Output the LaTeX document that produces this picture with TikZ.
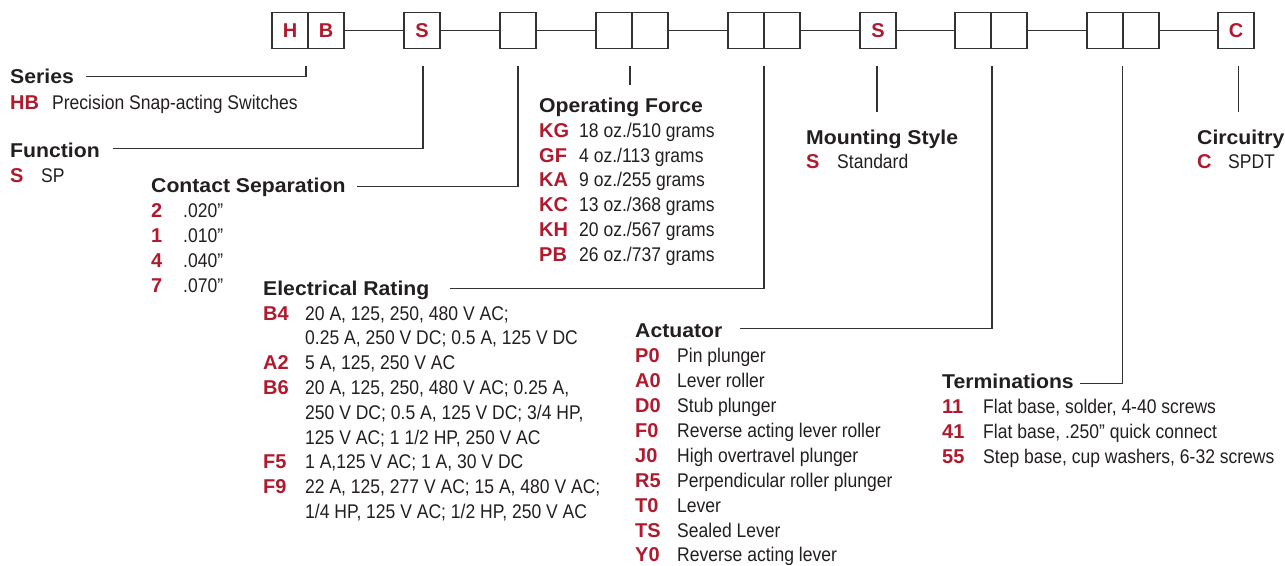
\documentclass[tikz,border=0pt]{standalone}
\usepackage{fontspec}
\setmainfont{Liberation Sans}
\newfontfamily\bodyfont{Liberation Sans}[FakeStretch=0.885]
\newfontfamily\headfont{Liberation Sans}[FakeStretch=1.06]
\usepackage{tikz}
\usetikzlibrary{positioning,calc}
\definecolor{partred}{RGB}{176,26,46}
\definecolor{ink}{RGB}{35,31,32}
\definecolor{boxline}{RGB}{50,50,50}

\begin{document}
\begin{tikzpicture}[x=1pt,y=-1pt,
  cell/.style={draw=boxline,line width=1.3pt,minimum width=36pt,minimum height=35.5pt,
    inner sep=0pt,text=partred,font=\bfseries\fontsize{20}{24}\selectfont},
  head/.style={anchor=base west,inner sep=0pt,text=ink,font=\headfont\bfseries\fontsize{20}{24}\selectfont},
  code/.style={anchor=base west,inner sep=0pt,text=partred,font=\bfseries\fontsize{20}{24}\selectfont},
  desc/.style={anchor=base west,inner sep=0pt,text=ink,font=\bodyfont\fontsize{19.8}{24}\selectfont},
  lead/.style={draw=boxline,line width=1.2pt},
]
\useasboundingbox (0,0) rectangle (1285,565);

% ---- Part number boxes ----
\node[cell] (H) at (290,30.5) {H};
\node[cell] (B) at (326,30.5) {B};
\node[cell] (fn) at (422,30.5) {S};
\node[cell] (cs) at (518,30.5) {};
\node[cell] (of1) at (614,30.5) {};
\node[cell] (of2) at (650,30.5) {};
\node[cell] (er1) at (746,30.5) {};
\node[cell] (er2) at (782,30.5) {};
\node[cell] (ms) at (878,30.5) {S};
\node[cell] (ac1) at (973,30.5) {};
\node[cell] (ac2) at (1009,30.5) {};
\node[cell] (tm1) at (1105,30.5) {};
\node[cell] (tm2) at (1141,30.5) {};
\node[cell] (ci) at (1236,30.5) {C};
\draw[lead] (B) -- (fn);
\draw[lead] (fn) -- (cs);
\draw[lead] (cs) -- (of1);
\draw[lead] (of2) -- (er1);
\draw[lead] (er2) -- (ms);
\draw[lead] (ms) -- (ac1);
\draw[lead] (ac2) -- (tm1);
\draw[lead] (tm2) -- (ci);

% ---- Leader lines ----
\coordinate (serTop) at (306,66);    \coordinate (serEnd) at (86,76.5);
\coordinate (fnTop) at (423,66);     \coordinate (fnEnd) at (113,148.3);
\coordinate (csTop) at (518,66);     \coordinate (csEnd) at (357,186.7);
\coordinate (ofTop) at (630,66);     \coordinate (ofEnd) at (630,85);
\coordinate (erTop) at (764,66);     \coordinate (erEnd) at (450,288.3);
\coordinate (msTop) at (877,66);     \coordinate (msEnd) at (877,112);
\coordinate (acTop) at (992,66);     \coordinate (acEnd) at (740,328.3);
\coordinate (tmTop) at (1122.5,66);  \coordinate (tmEnd) at (1080,383.3);
\coordinate (ciTop) at (1238.5,66);  \coordinate (ciEnd) at (1238.5,112);
\draw[lead] (serTop) |- (serEnd);
\draw[lead] (fnTop) |- (fnEnd);
\draw[lead] (csTop) |- (csEnd);
\draw[lead] (ofTop) -- (ofEnd);
\draw[lead] (erTop) |- (erEnd);
\draw[lead] (msTop) -- (msEnd);
\draw[lead] (acTop) |- (acEnd);
\draw[lead] (tmTop) |- (tmEnd);
\draw[lead] (ciTop) -- (ciEnd);

% ---- Series / Function ----
\node[head] (serH) at (10,83) {Series};
\node[code] (serC) at (10,109) {HB};
\node[desc] (serD) at (52,109) {Precision Snap-acting Switches};
\node[head] (fnH) at (10,157.7) {Function};
\node[code] (fnC) at (10,182) {S};
\node[desc] (fnD) at (41,182) {SP};

% ---- Contact Separation ----
\node[head] (csH) at (151,192.7) {Contact Separation};
\foreach \c/\t [count=\n] in {2/.020”,1/.010”,4/.040”,7/.070”}{
  \node[code] (csC\n) at (151,{217+25*(\n-1)}) {\c};
  \node[desc] (csD\n) at (183,{217+25*(\n-1)}) {\t};
}

% ---- Electrical Rating ----
\node[head] (erH) at (263,295) {Electrical Rating};
\foreach \c/\t [count=\n] in {
  B4/{20 A, 125, 250, 480 V AC;},
  /{0.25 A, 250 V DC; 0.5 A, 125 V DC},
  A2/{5 A, 125, 250 V AC},
  B6/{20 A, 125, 250, 480 V AC; 0.25 A,},
  /{250 V DC; 0.5 A, 125 V DC; 3/4 HP,},
  /{125 V AC; 1 1/2 HP, 250 V AC},
  F5/{1 A,125 V AC; 1 A, 30 V DC},
  F9/{22 A, 125, 277 V AC; 15 A, 480 V AC;},
  /{1/4 HP, 125 V AC; 1/2 HP, 250 V AC}}{
  \node[code] (erC\n) at (263,{320+24.8*(\n-1)}) {\c};
  \node[desc] (erD\n) at (305,{320+24.8*(\n-1)}) {\t};
}

% ---- Operating Force ----
\node[head] (ofH) at (539,112.7) {Operating Force};
\foreach \c/\t [count=\n] in {KG/{18 oz./510 grams},GF/{4 oz./113 grams},KA/{9 oz./255 grams},
  KC/{13 oz./368 grams},KH/{20 oz./567 grams},PB/{26 oz./737 grams}}{
  \node[code] (ofC\n) at (539,{137.3+24.8*(\n-1)}) {\c};
  \node[desc] (ofD\n) at (579,{137.3+24.8*(\n-1)}) {\t};
}

% ---- Mounting Style / Circuitry ----
\node[head] (msH) at (806,144) {Mounting Style};
\node[code] (msC) at (806,168.3) {S};
\node[desc] (msD) at (837,168.3) {Standard};
\node[head] (ciH) at (1197,144) {Circuitry};
\node[code] (ciC) at (1197,168.3) {C};
\node[desc] (ciD) at (1228,168.3) {SPDT};

% ---- Actuator ----
\node[head] (acH) at (635,337.3) {Actuator};
\foreach \c/\t [count=\n] in {P0/Pin plunger,A0/Lever roller,D0/Stub plunger,
  F0/Reverse acting lever roller,J0/High overtravel plunger,
  R5/Perpendicular roller plunger,T0/Lever,TS/Sealed Lever,Y0/Reverse acting lever}{
  \node[code] (acC\n) at (635,{362.7+24.9*(\n-1)}) {\c};
  \node[desc] (acD\n) at (677,{362.7+24.9*(\n-1)}) {\t};
}

% ---- Terminations ----
\node[head] (tmH) at (942,388.3) {Terminations};
\foreach \c/\t [count=\n] in {11/{Flat base, solder, 4-40 screws},
  41/{Flat base, .250” quick connect},55/{Step base, cup washers, 6-32 screws}}{
  \node[code] (tmC\n) at (942,{413.3+25*(\n-1)}) {\c};
  \node[desc] (tmD\n) at (983,{413.3+25*(\n-1)}) {\t};
}
\end{tikzpicture}
\end{document}
